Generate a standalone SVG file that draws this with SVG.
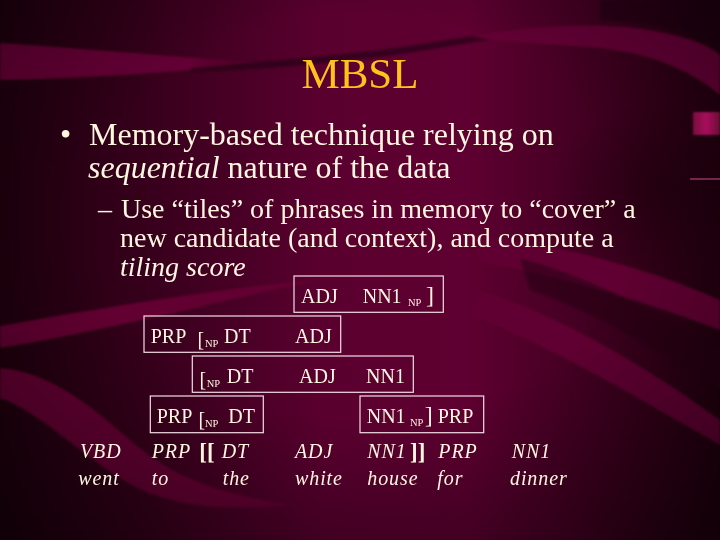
<svg xmlns="http://www.w3.org/2000/svg" width="720" height="540" viewBox="0 0 720 540">
<defs>
<linearGradient id="bg" x1="0" y1="0" x2="1" y2="0">
<stop offset="0" stop-color="#1f000e"/>
<stop offset="0.2" stop-color="#36001b"/>
<stop offset="0.45" stop-color="#5a002f"/>
<stop offset="0.65" stop-color="#5e0031"/>
<stop offset="0.85" stop-color="#3c001e"/>
<stop offset="1" stop-color="#22000f"/>
</linearGradient>
<radialGradient id="shade" cx="0.5" cy="0.4" r="0.75">
<stop offset="0.5" stop-color="#000" stop-opacity="0"/>
<stop offset="1" stop-color="#000" stop-opacity="0.45"/>
</radialGradient>
<radialGradient id="darkR" cx="0.5" cy="0.5" r="0.5">
<stop offset="0" stop-color="#1a000b" stop-opacity="0.55"/>
<stop offset="1" stop-color="#1a000b" stop-opacity="0"/>
</radialGradient>
<linearGradient id="bandL" x1="0" y1="0" x2="1" y2="0">
<stop offset="0" stop-color="#660034"/>
<stop offset="0.7" stop-color="#640034"/>
<stop offset="1" stop-color="#5a002f" stop-opacity="0"/>
</linearGradient>
<linearGradient id="blob" x1="0" y1="0" x2="1" y2="0">
<stop offset="0" stop-color="#7a0a40"/>
<stop offset="0.5" stop-color="#a8125c"/>
<stop offset="1" stop-color="#6a0836"/>
</linearGradient>
<filter id="soft" x="-5%" y="-5%" width="110%" height="110%"><feGaussianBlur stdDeviation="1.2"/></filter>
<filter id="blur" x="-20%" y="-20%" width="140%" height="140%"><feGaussianBlur stdDeviation="6"/></filter>
<style>
.t{font-family:"Liberation Serif","Times New Roman",serif;fill:#fff6e0}
.title{font-family:"Liberation Serif","Times New Roman",serif;fill:#ffc21a;font-size:43px}
.b1{font-size:32px}
.b2{font-size:28px}
.it{font-style:italic}
.box{fill:none;stroke:#f2dde4;stroke-width:1.2}
.tag{font-family:"Liberation Serif","Times New Roman",serif;fill:#fff6e0;font-size:20px}
.sub{font-size:10.5px}
.brk{font-size:20px}
.rbrk{font-size:24px}
.row{font-family:"Liberation Serif","Times New Roman",serif;fill:#fff6e0;font-size:20px;font-style:italic;letter-spacing:0.9px}
.bb{font-family:"Liberation Serif","Times New Roman",serif;fill:#fff6e0;font-size:23px;font-weight:bold}
</style>
</defs>

<g id="background">
<rect width="720" height="540" fill="url(#bg)"/>
<ellipse cx="660" cy="190" rx="110" ry="90" fill="url(#darkR)"/>
<g filter="url(#soft)">
<path d="M0,43 C80,48 160,56 270,63 C190,70 110,78 0,80 Z" fill="url(#bandL)"/>
<path d="M190,68 C260,62 330,56 380,50 C430,44 480,34 530,28 L535,33 C480,40 430,50 380,57 C320,64 260,70 190,72 Z" fill="#2c0016" opacity="0.8"/>
<path d="M470,36 C540,24 610,22 660,32 C700,40 715,50 720,55 L720,95 C690,70 650,52 590,47 C540,44 500,42 470,36 Z" fill="#630034"/>
<path d="M600,0 L720,0 L720,50 C690,30 650,22 600,20 Z" fill="#1e000d" opacity="0.6"/>
<path d="M0,326 C100,308 210,290 330,278 C230,298 120,328 0,348 Z" fill="#630033"/>
<path d="M0,368 C50,372 90,405 130,440 C170,475 210,492 290,505 C210,512 160,505 115,475 C70,445 35,410 0,398 Z" fill="#630033"/>
<path d="M470,235 C560,245 640,265 720,300 L720,330 C640,300 560,275 480,262 Z" fill="#610033"/>
<path d="M520,258 C600,280 670,320 720,350 L720,390 C660,350 600,315 530,290 Z" fill="#2a0015" opacity="0.6"/>
<path d="M480,290 C570,320 650,370 720,420 L720,445 C640,400 560,350 470,315 Z" fill="#610033"/>
</g>
<rect width="720" height="540" fill="url(#shade)"/>
<rect x="693" y="112" width="27" height="23" fill="url(#blob)" filter="url(#soft)"/>
<line x1="690" y1="179" x2="720" y2="179" stroke="#c04a86" stroke-width="1.5" opacity="0.7"/>
</g>

<g id="title">
<text class="title" x="360" y="88" text-anchor="middle">MBSL</text>
</g>

<g id="bullets">
<text class="t b1" x="60" y="145">•</text>
<text class="t b1" x="89" y="145">Memory-based technique relying on</text>
<text class="t b1" x="88" y="178"><tspan class="it">sequential</tspan> nature of the data</text>
<text class="t b2" x="98" y="218">–</text>
<text class="t b2" x="121" y="218">Use “tiles” of phrases in memory to “cover” a</text>
<text class="t b2" x="120" y="247">new candidate (and context), and compute a</text>
<text class="t b2 it" x="120" y="276">tiling score</text>
</g>

<g id="tile1">
<rect class="box" x="294" y="276" width="149.3" height="36.3"/>
<text class="tag" x="301" y="303">ADJ</text>
<text class="tag" x="362.7" y="303">NN1</text>
<text class="tag sub" x="408" y="306">NP</text>
<text class="tag rbrk" x="426" y="303">]</text>
</g>

<g id="tile2">
<rect class="box" x="144" y="316" width="196.7" height="36.3"/>
<text class="tag" x="150.7" y="343.3">PRP</text>
<text class="tag brk" x="197.5" y="345.5">[</text>
<text class="tag sub" x="205" y="346.5">NP</text>
<text class="tag" x="224" y="343.3">DT</text>
<text class="tag" x="295" y="343.3">ADJ</text>
</g>

<g id="tile3">
<rect class="box" x="192.3" y="356" width="221" height="36.3"/>
<text class="tag brk" x="199.5" y="385.5">[</text>
<text class="tag sub" x="206.7" y="386.5">NP</text>
<text class="tag" x="226.7" y="383.3">DT</text>
<text class="tag" x="299" y="383.3">ADJ</text>
<text class="tag" x="366" y="383.3">NN1</text>
</g>

<g id="tile4">
<rect class="box" x="150.3" y="396" width="113" height="36.7"/>
<text class="tag" x="156.7" y="423.3">PRP</text>
<text class="tag brk" x="198.5" y="425.5">[</text>
<text class="tag sub" x="205" y="426.5">NP</text>
<text class="tag" x="228.3" y="423.3">DT</text>
</g>

<g id="tile5">
<rect class="box" x="360" y="396" width="123.7" height="36.7"/>
<text class="tag" x="366.7" y="423.3">NN1</text>
<text class="tag sub" x="410" y="426">NP</text>
<text class="tag rbrk" x="424.7" y="422.5">]</text>
<text class="tag" x="437.7" y="423.3">PRP</text>
</g>

<g id="tags-row">
<text class="row" x="80" y="458.3">VBD</text>
<text class="row" x="151.7" y="458.3">PRP</text>
<text class="bb" x="199.3" y="459">[[</text>
<text class="row" x="221.7" y="458.3">DT</text>
<text class="row" x="295" y="458.3">ADJ</text>
<text class="row" x="367.3" y="458.3">NN1</text>
<text class="bb" x="410" y="459">]]</text>
<text class="row" x="438.3" y="458.3">PRP</text>
<text class="row" x="511.7" y="458.3">NN1</text>
</g>

<g id="words-row">
<text class="row" x="78.3" y="485">went</text>
<text class="row" x="151.7" y="485">to</text>
<text class="row" x="222.7" y="485">the</text>
<text class="row" x="295" y="485">white</text>
<text class="row" x="367.3" y="485">house</text>
<text class="row" x="437.3" y="485">for</text>
<text class="row" x="510" y="485">dinner</text>
</g>

<g id="connectors"></g>
</svg>
